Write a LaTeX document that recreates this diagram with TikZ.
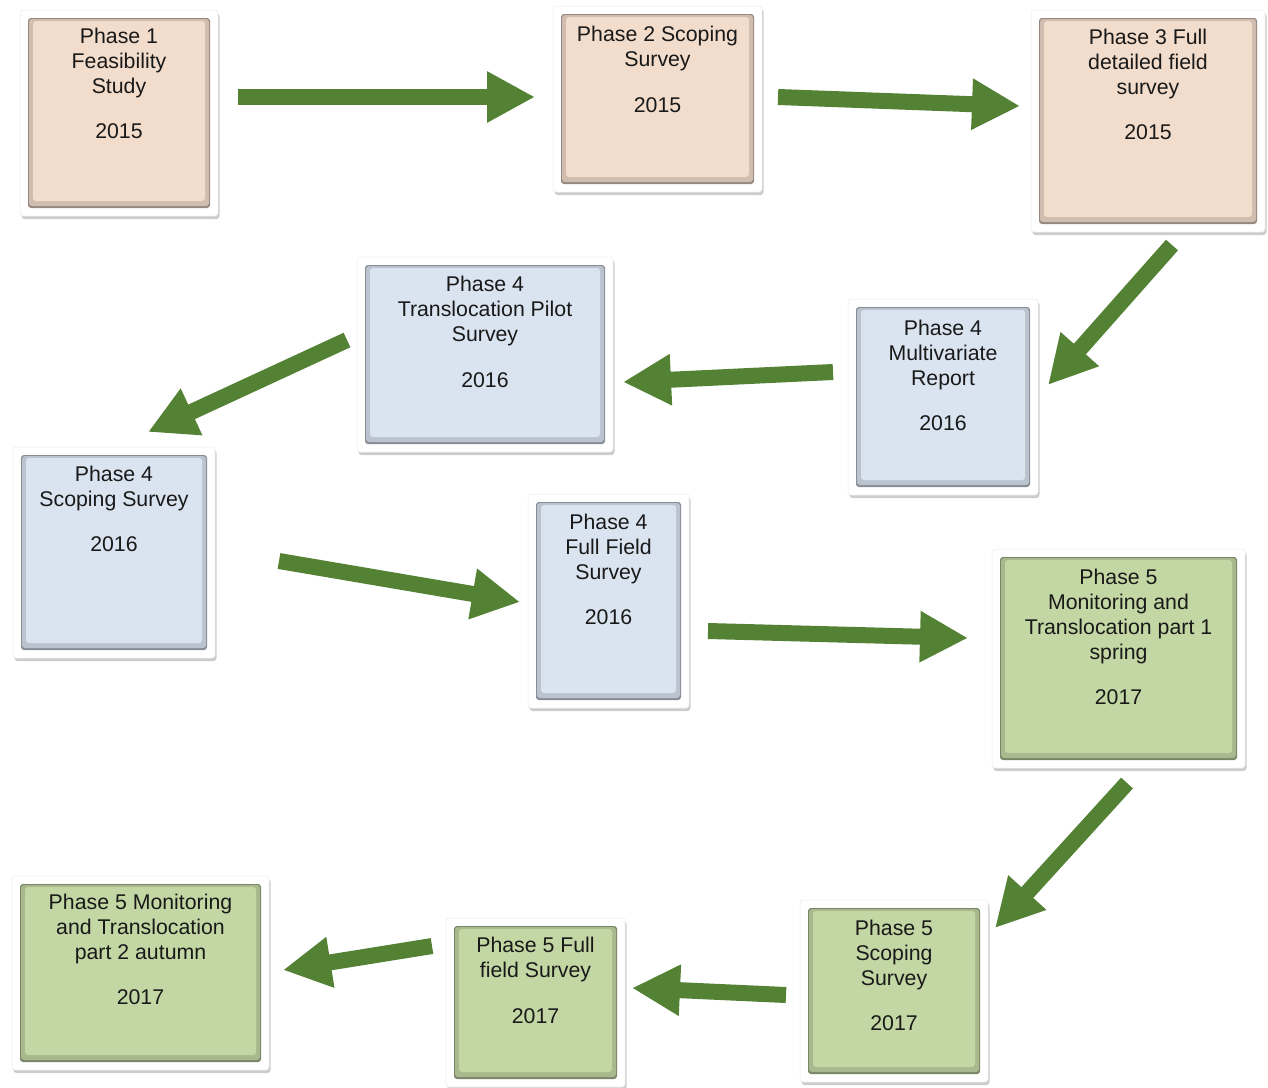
\documentclass[tikz,border=0pt]{standalone}
\usepackage{fontspec}
\setmainfont{Liberation Sans}
\usetikzlibrary{arrows.meta,calc,shadows}
\definecolor{peachbox}{HTML}{F2DCCB}
\definecolor{bluebox}{HTML}{DAE4F0}
\definecolor{greenbox}{HTML}{C3D7A4}
\definecolor{arrowgreen}{HTML}{548235}
\tikzset{
  frame/.style={fill=white, draw=black!8, line width=.5pt, rounded corners=3pt,
    inner sep=0pt, outer sep=0pt,
    drop shadow={shadow xshift=1.5pt, shadow yshift=-3pt, opacity=.2, fill=black}},
  stage/.style={frame, path picture={
      \fill[#1!62!black] ([shift={(8,8)}]path picture bounding box.north west)
        rectangle ([shift={(-8,-8)}]path picture bounding box.south east);
      \fill[#1!86!black] ([shift={(9,9)}]path picture bounding box.north west)
        rectangle ([shift={(-9,-10)}]path picture bounding box.south east);
      \fill[#1] ([shift={(13,11)}]path picture bounding box.north west)
        rectangle ([shift={(-13,-15)}]path picture bounding box.south east);
  }},
  caption/.style={align=center, font=\fontsize{21.3}{25}\selectfont, inner sep=0pt,
    anchor=north, text=black!90},
  flow/.style={draw=arrowgreen, line width=16pt, -{Triangle[length=48pt,width=48pt]}}
}
\begin{document}
\begin{tikzpicture}[x=1pt,y=-1pt]
\useasboundingbox (0,0) rectangle (1268,1087);

% 2015 stages
\node[stage=peachbox, minimum width=198pt, minimum height=206pt] (feasib) at (119,113) {};
\node[caption] (feasibT) at ([yshift=-18pt]feasib.north) {Phase 1\\Feasibility\\Study\\[20pt]2015};
\node[stage=peachbox, minimum width=209pt, minimum height=186pt] (scoping) at (657.5,99) {};
\node[caption] (scopingT) at ([yshift=-20pt]scoping.north) {Phase 2 Scoping\\Survey\\[21pt]2015};
\node[stage=peachbox, minimum width=234pt, minimum height=222pt] (detail) at (1148,121) {};
\node[caption] (detailT) at ([yshift=-19pt]detail.north) {Phase 3 Full\\detailed field\\survey\\[20pt]2015};

% 2016 stages
\node[stage=bluebox, minimum width=256pt, minimum height=195pt] (pilot) at (485,354.5) {};
\node[caption] (pilotT) at ([yshift=-19pt]pilot.north) {Phase 4\\Translocation Pilot\\Survey\\[21pt]2016};
\node[stage=bluebox, minimum width=190pt, minimum height=196pt] (multivar) at (943,397) {};
\node[caption] (multivarT) at ([yshift=-21pt]multivar.north) {Phase 4\\Multivariate\\Report\\[20pt]2016};
\node[stage=bluebox, minimum width=202pt, minimum height=211pt] (scopingF) at (114,552.5) {};
\node[caption] (scopingFT) at ([yshift=-19pt]scopingF.north) {Phase 4\\Scoping Survey\\[20pt]2016};
\node[stage=bluebox, minimum width=161pt, minimum height=214pt] (fieldF) at (608.5,601) {};
\node[caption] (fieldFT) at ([yshift=-20pt]fieldF.north) {Phase 4\\Full Field\\Survey\\[20pt]2016};

% 2017 stages
\node[stage=greenbox, minimum width=253pt, minimum height=219pt] (monitorA) at (1118.5,658.5) {};
\node[caption] (monitorAT) at ([yshift=-20pt]monitorA.north) {Phase 5\\Monitoring and\\Translocation part 1\\spring\\[20pt]2017};
\node[stage=greenbox, minimum width=188pt, minimum height=182pt] (scopingG) at (894,991) {};
\node[caption] (scopingGT) at ([yshift=-20pt]scopingG.north) {Phase 5\\Scoping\\Survey\\[20pt]2017};
\node[stage=greenbox, minimum width=179pt, minimum height=169pt] (fieldG) at (535.5,1002.5) {};
\node[caption] (fieldGT) at ([yshift=-19pt]fieldG.north) {Phase 5 Full\\field Survey\\[21pt]2017};
\node[stage=greenbox, minimum width=257pt, minimum height=194pt] (monitorB) at (140.5,973) {};
\node[caption] (monitorBT) at ([yshift=-18pt]monitorB.north) {Phase 5 Monitoring\\and Translocation\\part 2 autumn\\[20pt]2017};

% arrows
\draw[flow] ($(feasib.east)+(20,-16)$) -- ($(scoping.west)+(-18,-2)$);
\draw[flow] ($(scoping.east)+(16,-2)$) -- ($(detail.west)+(-11,-15)$);
\draw[flow] ($(detail.south)+(24,13)$) -- ($(multivar.east)+(10,-12)$);
\draw[flow] ($(multivar.west)+(-15,-25)$) -- ($(pilot.east)+(10,27.5)$);
\draw[flow] ($(pilot.west)+(-10,-14.5)$) -- ($(scopingF.north)+(34,-15)$);
\draw[flow] ($(scopingF.east)+(64,8.5)$) -- ($(fieldF.west)+(-8,1)$);
\draw[flow] ($(fieldF.east)+(19,30)$) -- ($(monitorA.west)+(-24,-20.5)$);
\draw[flow] ($(monitorA.south)+(8.5,15)$) -- ($(scopingG.north east)+(7,28)$);
\draw[flow] ($(scopingG.west)+(-14,4)$) -- ($(fieldG.east)+(7,-14.5)$);
\draw[flow] ($(fieldG.west)+(-14,-56.5)$) -- ($(monitorB.east)+(14,-3)$);

\end{tikzpicture}
\end{document}
